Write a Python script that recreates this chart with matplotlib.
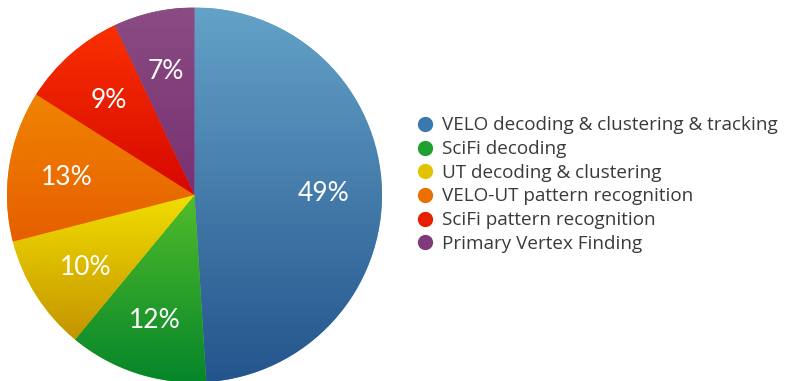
# pie of time fractions, keynote style

import numpy as np
import matplotlib.pyplot as plt
from matplotlib.lines import Line2D
from matplotlib.colors import LinearSegmentedColormap

labels = ['VELO decoding & clustering & tracking',
          'SciFi decoding',
          'UT decoding & clustering',
          'VELO-UT pattern recognition',
          'SciFi pattern recognition',
          'Primary Vertex Finding']
shares = [49, 12, 10, 13, 9, 7]

# top / bottom colour of each slice gradient
tops = ['#64a2c8', '#52bc2a', '#f2de00', '#f08400', '#fa3000', '#8a4c82']
bottoms = ['#24548c', '#06862a', '#c49400', '#e65e00', '#d60800', '#783072']
marker_cols = ['#3a78b0', '#20a030', '#e0c400', '#ec7000', '#e81e00', '#7e3a7a']

W, H = 786, 381
fig = plt.figure(figsize=(W / 100, H / 100), dpi=100)
R = 187.5
cx, cy = 194.5, H - 195
ax = fig.add_axes([(cx - R) / W, (cy - R) / H, 2 * R / W, 2 * R / H])

wedges, texts = ax.pie(shares, startangle=90, counterclock=False,
                       colors=tops, labels=[f'{s}%' for s in shares],
                       labeldistance=0.69, radius=1,
                       wedgeprops=dict(linewidth=0),
                       textprops=dict(color='white', fontsize=19,
                                      family=['Lato', 'DejaVu Sans']))

for w, t, b in zip(wedges, tops, bottoms):
    th = np.radians(np.linspace(w.theta1, w.theta2, 200))
    ys = np.concatenate([np.sin(th), [0]])
    y0, y1 = ys.min(), ys.max()
    cmap = LinearSegmentedColormap.from_list('g', [b, t])
    grad = np.linspace(0, 1, 256).reshape(-1, 1)
    im = ax.imshow(grad, cmap=cmap, origin='lower', aspect='auto',
                   extent=[-1, 1, y0, y1], zorder=1.5)
    im.set_clip_path(w)

for t in texts:
    t.set_zorder(3)
    t.set_ha('center')
    t.set_va('center')
    x, y = t.get_position()
    t.set_position((x, y - 0.015))

ax.set_xlim(-1, 1)
ax.set_ylim(-1, 1)
ax.set_aspect('equal')
ax.axis('off')

handles = [Line2D([], [], marker='o', linestyle='none', markersize=11,
                  markerfacecolor=c, markeredgewidth=0) for c in marker_cols]
fig.legend(handles, labels, loc='upper left',
           bbox_to_anchor=(406 / W, 1 - 107 / H), frameon=False,
           prop=dict(family='Open Sans', size=13.6),
           labelcolor='#3a3a3a', handletextpad=0.4, labelspacing=0.3,
           handlelength=1.0, borderpad=0)

fig.savefig('out.png', dpi=100)
